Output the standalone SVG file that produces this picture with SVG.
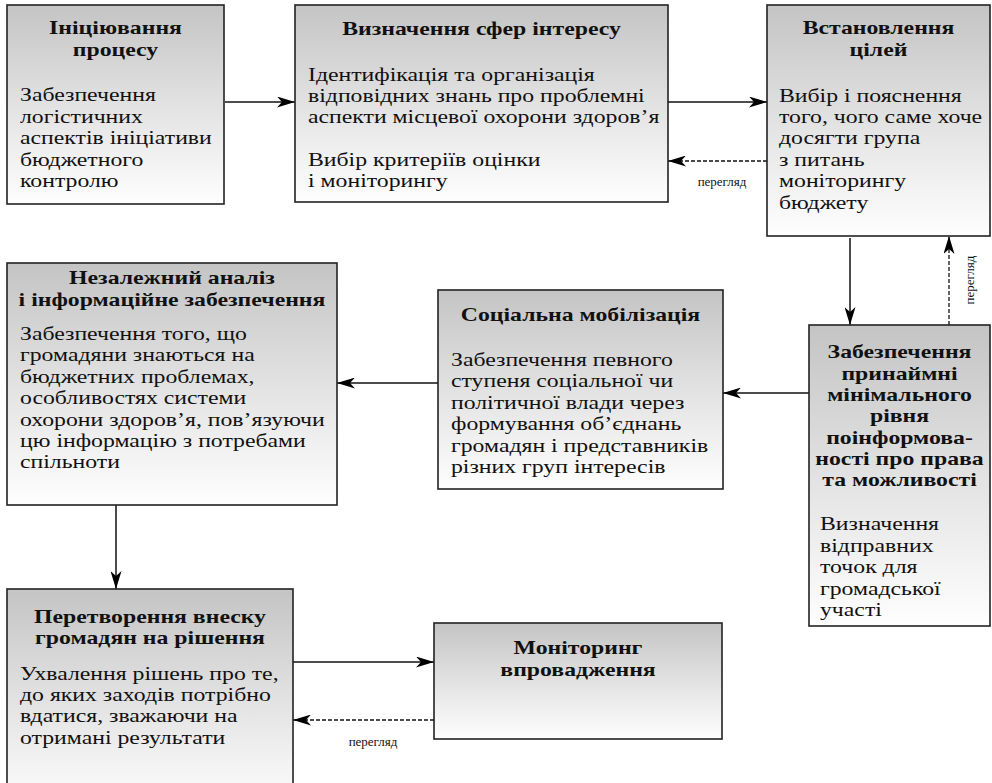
<svg xmlns="http://www.w3.org/2000/svg" width="992" height="783" viewBox="0 0 992 783">
<defs>
<linearGradient id="g" x1="0" y1="0" x2="0" y2="1">
<stop offset="0" stop-color="#c4c4c4"/>
<stop offset="0.5" stop-color="#e2e2e2"/>
<stop offset="1" stop-color="#fefefe"/>
</linearGradient>
<marker id="ah" viewBox="0 0 18 11" refX="18" refY="5.5" markerWidth="18" markerHeight="11" markerUnits="userSpaceOnUse" orient="auto">
<path d="M0,0 L18,5.5 L0,11 L5,5.5 Z" fill="#000"/>
</marker>
<style>
.box{fill:url(#g);stroke:#222;stroke-width:1.6}
.t{font-size:19px;font-weight:bold;fill:#111;text-anchor:middle}
.b{font-size:19px;fill:#111}
.s{font-size:13px;fill:#111;text-anchor:middle}
.c{stroke:#111;stroke-width:1.5;fill:none}
.d{stroke:#111;stroke-width:1.3;fill:none;stroke-dasharray:4,2}
</style>
</defs>
<g id="connectors" font-family="'Liberation Serif', 'Times New Roman', serif">
<line class="c" x1="225" y1="102" x2="295" y2="102" marker-end="url(#ah)"/>
<line class="c" x1="668" y1="102" x2="767" y2="102" marker-end="url(#ah)"/>
<line class="d" x1="767" y1="161" x2="668" y2="161" marker-end="url(#ah)"/>
<text class="s" x="722" y="186">перегляд</text>
<line class="c" x1="850" y1="238" x2="850" y2="325" marker-end="url(#ah)"/>
<line class="d" x1="949" y1="325" x2="949" y2="236" marker-end="url(#ah)"/>
<text class="s" transform="translate(974,280) rotate(-90)">перегляд</text>
<line class="c" x1="809" y1="393" x2="723" y2="393" marker-end="url(#ah)"/>
<line class="c" x1="438" y1="383" x2="337" y2="383" marker-end="url(#ah)"/>
<line class="c" x1="116" y1="505" x2="116" y2="589" marker-end="url(#ah)"/>
<line class="c" x1="293" y1="662" x2="434" y2="662" marker-end="url(#ah)"/>
<line class="d" x1="434" y1="720" x2="293" y2="720" marker-end="url(#ah)"/>
<text class="s" x="373" y="746">перегляд</text>
</g>
<g font-family="'Liberation Serif', 'Times New Roman', serif">
<g id="n1">
<rect class="box" x="7" y="5" width="217" height="199"/>
<g transform="translate(115.5,0) scale(1.25,1)">
<text class="t" x="0" y="34">Ініціювання</text>
<text class="t" x="0" y="56">процесу</text>
</g>
<g transform="translate(20,0) scale(1.25,1)">
<text class="b" x="0" y="101">Забезпечення</text>
<text class="b" x="0" y="123">логістичних</text>
<text class="b" x="0" y="144">аспектів ініціативи</text>
<text class="b" x="0" y="166">бюджетного</text>
<text class="b" x="0" y="187">контролю</text>
</g>
</g>
<g id="n2">
<rect class="box" x="295" y="5" width="373" height="197"/>
<g transform="translate(481.5,0) scale(1.25,1)">
<text class="t" x="0" y="35">Визначення сфер інтересу</text>
</g>
<g transform="translate(308,0) scale(1.25,1)">
<text class="b" x="0" y="81">Ідентифікація та організація</text>
<text class="b" x="0" y="102">відповідних знань про проблемні</text>
<text class="b" x="0" y="123">аспекти місцевої охорони здоров’я</text>
<text class="b" x="0" y="166">Вибір критеріїв оцінки</text>
<text class="b" x="0" y="187">і моніторингу</text>
</g>
</g>
<g id="n3">
<rect class="box" x="767" y="5" width="223" height="231"/>
<g transform="translate(878.5,0) scale(1.25,1)">
<text class="t" x="0" y="34">Встановлення</text>
<text class="t" x="0" y="56">цілей</text>
</g>
<g transform="translate(779,0) scale(1.25,1)">
<text class="b" x="0" y="102">Вибір і пояснення</text>
<text class="b" x="0" y="123">того, чого саме хоче</text>
<text class="b" x="0" y="144">досягти група</text>
<text class="b" x="0" y="166">з питань</text>
<text class="b" x="0" y="187">моніторингу</text>
<text class="b" x="0" y="209">бюджету</text>
</g>
</g>
<g id="n4">
<rect class="box" x="7" y="263" width="330" height="242"/>
<g transform="translate(172,0) scale(1.25,1)">
<text class="t" x="0" y="284">Незалежний аналіз</text>
<text class="t" x="0" y="306">і інформаційне забезпечення</text>
</g>
<g transform="translate(20,0) scale(1.25,1)">
<text class="b" x="0" y="340">Забезпечення того, що</text>
<text class="b" x="0" y="361">громадяни знаються на</text>
<text class="b" x="0" y="383">бюджетних проблемах,</text>
<text class="b" x="0" y="404">особливостях системи</text>
<text class="b" x="0" y="426">охорони здоров’я, пов’язуючи</text>
<text class="b" x="0" y="447">цю інформацію з потребами</text>
<text class="b" x="0" y="468">спільноти</text>
</g>
</g>
<g id="n5">
<rect class="box" x="438" y="290" width="285" height="199"/>
<g transform="translate(580.5,0) scale(1.25,1)">
<text class="t" x="0" y="321">Соціальна мобілізація</text>
</g>
<g transform="translate(451,0) scale(1.25,1)">
<text class="b" x="0" y="366">Забезпечення певного</text>
<text class="b" x="0" y="387">ступеня соціальної чи</text>
<text class="b" x="0" y="409">політичної влади через</text>
<text class="b" x="0" y="430">формування об’єднань</text>
<text class="b" x="0" y="452">громадян і представників</text>
<text class="b" x="0" y="473">різних груп інтересів</text>
</g>
</g>
<g id="n6">
<rect class="box" x="809" y="325" width="181" height="301"/>
<g transform="translate(899.5,0) scale(1.25,1)">
<text class="t" x="0" y="358">Забезпечення</text>
<text class="t" x="0" y="380">принаймні</text>
<text class="t" x="0" y="401">мінімального</text>
<text class="t" x="0" y="422">рівня</text>
<text class="t" x="0" y="444">поінформова-</text>
<text class="t" x="0" y="465">ності про права</text>
<text class="t" x="0" y="486">та можливості</text>
</g>
<g transform="translate(820,0) scale(1.25,1)">
<text class="b" x="0" y="530">Визначення</text>
<text class="b" x="0" y="552">відправних</text>
<text class="b" x="0" y="573">точок для</text>
<text class="b" x="0" y="595">громадської</text>
<text class="b" x="0" y="616">участі</text>
</g>
</g>
<g id="n7">
<rect class="box" x="7" y="589" width="286" height="220"/>
<g transform="translate(150,0) scale(1.25,1)">
<text class="t" x="0" y="623">Перетворення внеску</text>
<text class="t" x="0" y="644">громадян на рішення</text>
</g>
<g transform="translate(20,0) scale(1.25,1)">
<text class="b" x="0" y="680">Ухвалення рішень про те,</text>
<text class="b" x="0" y="701">до яких заходів потрібно</text>
<text class="b" x="0" y="722">вдатися, зважаючи на</text>
<text class="b" x="0" y="744">отримані результати</text>
</g>
</g>
<g id="n8">
<rect class="box" x="434" y="623" width="288" height="116"/>
<g transform="translate(578,0) scale(1.25,1)">
<text class="t" x="0" y="654">Моніторинг</text>
<text class="t" x="0" y="676">впровадження</text>
</g>
</g>
</g>
</svg>
